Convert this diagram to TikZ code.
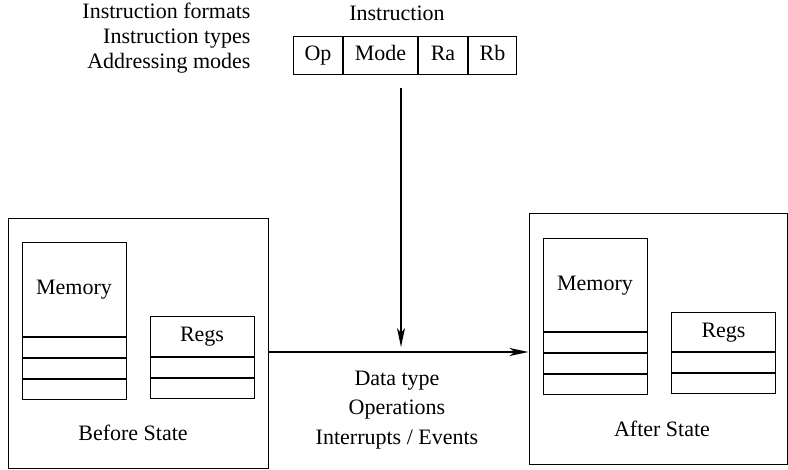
\documentclass[tikz,border=0pt]{standalone}
\usepackage{fontspec}
\setmainfont{Liberation Serif}
\usetikzlibrary{arrows.meta, positioning}

\begin{document}
\begin{tikzpicture}[
  x=1pt, y=-1pt,
  font=\fontsize{22}{25}\selectfont,
  frame/.style={draw, line width=1pt, inner sep=0pt},
  field/.style={frame, minimum height=38pt, text height=15pt, text depth=5pt},
  cell/.style={frame, minimum width=104pt, minimum height=19.7pt},
  arr/.style={-{Stealth[length=19pt, width=8pt, inset=5pt]}, line width=1.2pt},
]
\useasboundingbox (0,0) rectangle (788,470);

% Instruction
\node[align=right, anchor=east] (topics) at (254,38) {Instruction formats\\Instruction types\\Addressing modes};
\node (instrlabel) at (397,13) {Instruction};
\node[field, minimum width=49pt, anchor=west] (op) at (293,56) {Op};
\node[field, minimum width=74pt, right=0pt of op] (mode) {Mode};
\node[field, minimum width=49pt, right=0pt of mode] (ra) {Ra};
\node[field, minimum width=48pt, right=0pt of ra] (rb) {Rb};

% Before state
\node[frame, minimum width=260pt, minimum height=249.5pt] (before) at (138,343.75) {};
\node[cell, minimum height=94pt] (memL) at (74,290) {Memory};
\node[cell, below=0pt of memL] (memL1) {};
\node[cell, below=0pt of memL1] (memL2) {};
\node[cell, below=0pt of memL2] (memL3) {};
\node[cell, minimum height=40pt] (regsL) at (202,337) {Regs};
\node[cell, below=0pt of regsL] (regsL1) {};
\node[cell, below=0pt of regsL1] (regsL2) {};
\node (beforelabel) at (133,433) {Before State};

% After state
\node[frame, minimum width=258pt, minimum height=251pt] (after) at (658,339.5) {};
\node[cell, minimum height=93pt] (memR) at (595,285.5) {Memory};
\node[cell, below=0pt of memR] (memR1) {};
\node[cell, below=0pt of memR1] (memR2) {};
\node[cell, below=0pt of memR2] (memR3) {};
\node[cell, minimum height=39pt] (regsR) at (723.5,332.5) {Regs};
\node[cell, below=0pt of regsR] (regsR1) {};
\node[cell, below=0pt of regsR1] (regsR2) {};
\node (afterlabel) at (662,429) {After State};

% Semantics
\node[align=center, font=\fontsize{22}{29.5}\selectfont] (semantics) at (397,410) {Data type\\Operations\\Interrupts / Events};

% Arrows
\coordinate (tail) at (401,88);
\coordinate (head) at (401,347);
\coordinate (flow) at (268,352);
\draw[arr] (tail) -- (head);
\draw[arr] (flow) -- (flow -| after.west);

\end{tikzpicture}
\end{document}
